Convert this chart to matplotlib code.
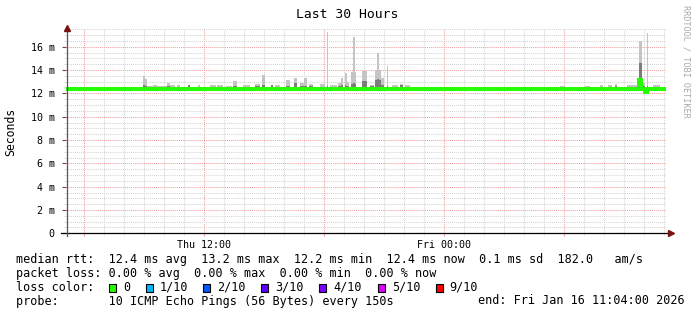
#!/usr/bin/env python3
"""SmokePing style 'Last 30 Hours' latency graph -> out.png"""
import datetime as dt
import matplotlib
matplotlib.use("Agg")
import matplotlib.pyplot as plt
from matplotlib.patches import Rectangle

MONO = "DejaVu Sans Mono"
GREEN = "#26ff00"
SMOKE_LIGHT, SMOKE_DARK = "#c4c4c4", "#7c7c7c"
GRID, MGRID, ARROW = "#d4d4d4", "#f0a0a0", "#7a1010"

START = dt.datetime(2026, 1, 15, 5, 4)
SPAN_H = 30

# median rtt in ms, step changes (hours since START)
MED_T = [0.0, 28.67, 28.77, 28.97, 29.05, 29.97]
MED_V = [12.4, 13.14, 12.4, 12.15, 12.4, 12.4]

# smoke blocks: hours since START, top of ping spread (ms), top of dark band (ms)
SMOKE_T0 = [3.85, 3.97, 4.08, 4.35, 4.58, 5.05, 5.22, 5.57, 6.12, 6.62,
            7.22, 7.57, 8.02, 8.37, 8.87, 9.47, 9.82, 10.27, 10.47, 11.02,
            11.42, 11.72, 11.92, 12.17, 12.72, 13.07, 13.22, 13.62, 13.77, 13.97,
            14.04, 14.29, 14.37, 14.82, 15.22, 15.47, 15.57, 15.77, 16.07, 16.32,
            16.72, 16.97, 24.72, 25.97, 26.72, 27.12, 27.47, 28.07, 28.67, 28.82,
            29.07, 29.37]
SMOKE_T1 = [3.97, 4.08, 4.35, 4.58, 5.05, 5.22, 5.47, 5.72, 6.22, 6.72,
            7.52, 7.87, 8.32, 8.57, 9.22, 9.72, 9.97, 10.37, 10.72, 11.22,
            11.57, 11.92, 12.07, 12.37, 12.97, 13.13, 13.57, 13.77, 13.84, 14.04,
            14.17, 14.52, 14.44, 15.07, 15.42, 15.77, 15.67, 15.92, 16.12, 16.62,
            16.87, 17.22, 24.97, 26.22, 26.87, 27.32, 27.57, 28.62, 28.82, 28.97,
            29.12, 29.72]
SMOKE_HI = [13.51, 13.23, 12.62, 12.71, 12.62, 12.88, 12.70, 12.70, 12.68, 12.70,
            12.68, 12.72, 12.65, 13.05, 12.71, 12.80, 13.57, 12.75, 12.70, 13.14,
            13.29, 12.88, 13.34, 12.85, 12.85, 17.23, 12.70, 12.88, 13.29, 13.71,
            12.95, 13.85, 16.85, 13.91, 12.75, 14.00, 15.43, 13.30, 14.37, 12.75,
            12.80, 12.72, 12.65, 12.65, 12.70, 12.70, 12.78, 12.70, 16.48, 12.88,
            17.14, 12.75]
SMOKE_MID = [12.70, 12.60, 12.50, 12.50, 12.50, 12.60, 12.50, 12.50, 12.68, 12.50,
             12.50, 12.50, 12.50, 12.62, 12.50, 12.60, 12.70, 12.75, 12.50, 12.65,
             12.90, 12.60, 12.65, 12.60, 12.55, 12.60, 12.50, 12.65, 12.70, 12.70,
             12.62, 12.85, 12.90, 13.05, 12.60, 13.15, 13.20, 12.75, 12.62, 12.55,
             12.75, 12.55, 12.50, 12.50, 12.50, 12.50, 12.60, 12.55, 14.57, 12.60,
             12.60, 12.55]
SMOKE_LO = 12.3

Y_MAX = 17.5
Y_TICKS = [0, 2, 4, 6, 8, 10, 12, 14, 16]

LEGEND_ROWS = [
    "median rtt:  12.4 ms avg  13.2 ms max  12.2 ms min  12.4 ms now  0.1 ms sd  182.0   am/s",
    "packet loss: 0.00 % avg  0.00 % max  0.00 % min  0.00 % now",
    "loss color:",
    "probe:       10 ICMP Echo Pings (56 Bytes) every 150s",
]
LOSS_LABELS = ["0", "1/10", "2/10", "3/10", "4/10", "5/10", "9/10"]
LOSS_COLORS = ["#26ff00", "#00b8ff", "#0059ff", "#5e00ff", "#7e00ff", "#dd00ff", "#ff0000"]
END_TEXT = "end: Fri Jan 16 11:04:00 2026"

W, H = 697, 315
fig = plt.figure(figsize=(W / 100, H / 100), dpi=100)
fig.patch.set_facecolor("white")
L, B, AW, AH = 65.7, H - 233.3, 600, 204
ax = fig.add_axes([L / W, B / H, AW / W, AH / H])
ax.set_xlim(0, SPAN_H)
ax.set_ylim(0, Y_MAX)
for s in ax.spines.values():
    s.set_visible(False)

# grid: hourly minor / 6-hourly major, 0.5 ms minor / 2 ms major
first = (60 - START.minute) / 60
hours = [first + k for k in range(SPAN_H) if first + k <= SPAN_H]
major = [h for h in hours if (START + dt.timedelta(hours=h)).hour % 6 == 0]
labels = []
for h in major:
    t = START + dt.timedelta(hours=h)
    labels.append(t.strftime("%a %H:%M") if t.hour % 12 == 0 else "")
ax.set_xticks(major)
ax.set_xticklabels(labels, family=MONO, fontsize=7.2)
ax.set_xticks([h for h in hours if h not in major], minor=True)
ax.set_yticks(Y_TICKS)
ax.set_yticklabels([f"{v} m" if v else "0" for v in Y_TICKS], family=MONO, fontsize=7.2)
ax.set_yticks([v / 2 for v in range(int(Y_MAX * 2) + 1) if v % 4], minor=True)
dots = (0, (1, 1))
ax.grid(True, which="minor", color=GRID, linestyle=dots, linewidth=0.75)
ax.grid(True, which="major", color=MGRID, linestyle=dots, linewidth=0.75)
ax.set_axisbelow(True)
ax.tick_params(axis="x", which="major", length=2.5, color=MGRID, pad=2.5)
ax.tick_params(axis="x", which="minor", length=1.5, color=GRID)
ax.tick_params(axis="y", which="major", length=3, color="#804040", pad=5)
ax.tick_params(axis="y", which="minor", length=1.5, color=GRID)

# smoke
for t0, t1, hi, mid in zip(SMOKE_T0, SMOKE_T1, SMOKE_HI, SMOKE_MID):
    ax.bar(t0, hi - SMOKE_LO, width=t1 - t0, bottom=SMOKE_LO, align="edge",
           color=SMOKE_LIGHT, linewidth=0, zorder=3)
    ax.bar(t0, mid - SMOKE_LO, width=t1 - t0, bottom=SMOKE_LO, align="edge",
           color=SMOKE_DARK, linewidth=0, zorder=3)

# median
ax.step(MED_T, MED_V, where="post", color=GREEN, linewidth=2.9, zorder=4,
        solid_joinstyle="miter")

# axes with arrows
ax.plot([-0.25, SPAN_H + 0.2], [0, 0], color="black", linewidth=0.9, clip_on=False, zorder=5)
ax.plot([0.05, 0.05], [-0.25, Y_MAX + 0.1], color="#555555", linewidth=0.9, clip_on=False, zorder=5)
ax.plot([SPAN_H + 0.25], [0], marker=">", markersize=4, color=ARROW, clip_on=False, zorder=6)
ax.plot([0.05], [Y_MAX + 0.15], marker="^", markersize=4, color=ARROW, clip_on=False, zorder=6)

# titles
fig.text(0.4985, 1 - 14 / H, "Last 30 Hours", family=MONO, fontsize=9.4,
         ha="center", va="center")
fig.text(11 / W, 1 - 132 / H, "Seconds", family=MONO, fontsize=8.3,
         rotation=90, ha="center", va="center")
fig.text(686 / W, 1 - 5 / H, "RRDTOOL / TOBI OETIKER", family=MONO, fontsize=6.1,
         rotation=270, ha="center", va="top", color="#aaaaaa")

# legend
rows_y = [260, 273.5, 287.5, 301]
for txt, y in zip(LEGEND_ROWS, rows_y):
    fig.text(16 / W, 1 - y / H, txt, family=MONO, fontsize=8.5, ha="left", va="center")
fig.text(478 / W, 1 - rows_y[3] / H, END_TEXT, family=MONO, fontsize=8.5,
         ha="left", va="center")
box_x = [109, 145.7, 203.3, 261.2, 319.1, 377.7, 435.7]
for bx, lab, col in zip(box_x, LOSS_LABELS, LOSS_COLORS):
    fig.patches.append(Rectangle((bx / W, 1 - (rows_y[2] + 4) / H), 7 / W, 8 / H,
                                 transform=fig.transFigure, facecolor=col,
                                 edgecolor="black", linewidth=0.8))
    fig.text((bx + 14) / W, 1 - rows_y[2] / H, lab, family=MONO, fontsize=8.5,
             ha="left", va="center")

fig.savefig("out.png", dpi=100)
